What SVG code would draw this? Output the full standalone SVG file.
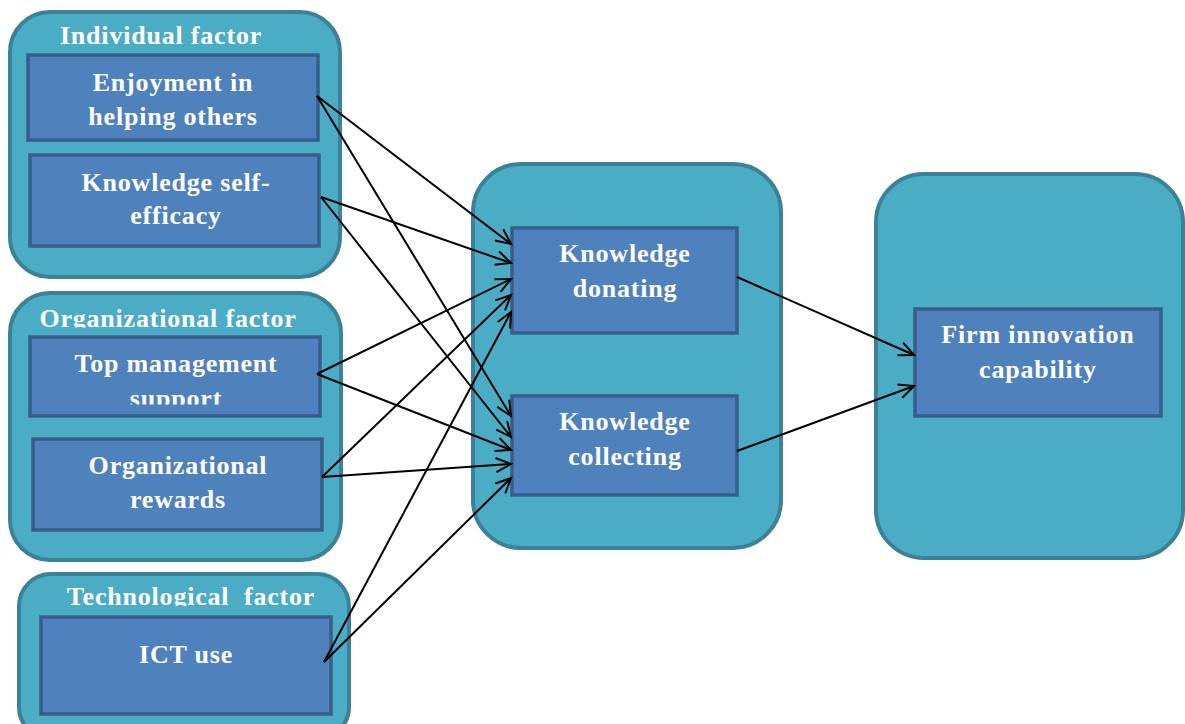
<svg xmlns="http://www.w3.org/2000/svg" width="1185" height="724" viewBox="0 0 1185 724">
<style>
.outer{fill:#4bacc6;stroke:#3b8296;stroke-width:4}
.inner{fill:#4f81bd;stroke:#385d8a;stroke-width:3.5}
.t{font-family:"Liberation Serif","Times New Roman",serif;font-weight:bold;font-size:26px;letter-spacing:0.8px;fill:#ffffff;text-anchor:middle}
.c{fill:none;stroke:#000;stroke-width:2}
</style>
<defs>
<marker id="arr" markerUnits="userSpaceOnUse" markerWidth="20" markerHeight="20" viewBox="0 0 20 20" refX="17" refY="10" orient="auto">
<path d="M2,3 L17,10 L2,17" fill="none" stroke="#000" stroke-width="2"/>
</marker>
<clipPath id="clipOrg"><rect x="0" y="290" width="350" height="37.5"/></clipPath>
<clipPath id="clipTech"><rect x="0" y="570" width="360" height="36"/></clipPath>
<clipPath id="clipSup"><rect x="0" y="330" width="350" height="74.5"/></clipPath>
</defs>
<rect width="1185" height="724" fill="#ffffff"/>
<g id="individual-factor">
<rect class="outer" x="10" y="12" width="330" height="265" rx="40"/>
<text class="t" x="161" y="44">Individual factor</text>
</g>
<g id="enjoyment">
<rect class="inner" x="28" y="55" width="290" height="85"/>
<text class="t" x="173" y="91">Enjoyment in</text>
<text class="t" x="173" y="125">helping others</text>
</g>
<g id="self-efficacy">
<rect class="inner" x="30" y="155" width="289" height="91"/>
<text class="t" x="176" y="191">Knowledge self-</text>
<text class="t" x="176" y="224">efficacy</text>
</g>
<g id="organizational-factor">
<rect class="outer" x="10" y="293" width="331" height="267" rx="40"/>
<text class="t" x="168" y="327" clip-path="url(#clipOrg)">Organizational factor</text>
</g>
<g id="top-management">
<rect class="inner" x="30" y="337" width="290" height="79"/>
<text class="t" x="176" y="372">Top management</text>
<text class="t" x="176" y="407" clip-path="url(#clipSup)">support</text>
</g>
<g id="org-rewards">
<rect class="inner" x="33" y="439" width="289" height="91"/>
<text class="t" x="178" y="474">Organizational</text>
<text class="t" x="178" y="508">rewards</text>
</g>
<g id="technological-factor">
<rect class="outer" x="19" y="574" width="330" height="165" rx="32"/>
<text class="t" x="191" y="605" clip-path="url(#clipTech)" xml:space="preserve">Technological  factor</text>
</g>
<g id="ict-use">
<rect class="inner" x="41" y="617" width="290" height="97"/>
<text class="t" x="186" y="663">ICT use</text>
</g>
<g id="knowledge-sharing">
<rect class="outer" x="473" y="164" width="308" height="384" rx="48"/>
</g>
<g id="knowledge-donating">
<rect class="inner" x="512" y="228" width="225" height="105"/>
<text class="t" x="625" y="262">Knowledge</text>
<text class="t" x="625" y="297">donating</text>
</g>
<g id="knowledge-collecting">
<rect class="inner" x="512" y="396" width="225" height="99"/>
<text class="t" x="625" y="430">Knowledge</text>
<text class="t" x="625" y="465">collecting</text>
</g>
<g id="innovation">
<rect class="outer" x="876" y="174" width="307" height="384" rx="48"/>
</g>
<g id="firm-innovation">
<rect class="inner" x="915" y="309" width="246" height="107"/>
<text class="t" x="1038" y="343">Firm innovation</text>
<text class="t" x="1038" y="378">capability</text>
</g>
<g id="connectors">
<line class="c" x1="317" y1="96" x2="511" y2="244" marker-end="url(#arr)"/>
<line class="c" x1="317" y1="96" x2="511" y2="416" marker-end="url(#arr)"/>
<line class="c" x1="321" y1="197" x2="511" y2="263" marker-end="url(#arr)"/>
<line class="c" x1="321" y1="197" x2="511" y2="437" marker-end="url(#arr)"/>
<line class="c" x1="317" y1="374" x2="511" y2="279" marker-end="url(#arr)"/>
<line class="c" x1="317" y1="374" x2="511" y2="450" marker-end="url(#arr)"/>
<line class="c" x1="322" y1="477" x2="511" y2="295" marker-end="url(#arr)"/>
<line class="c" x1="322" y1="477" x2="511" y2="464" marker-end="url(#arr)"/>
<line class="c" x1="324" y1="662" x2="511" y2="312" marker-end="url(#arr)"/>
<line class="c" x1="324" y1="662" x2="511" y2="478" marker-end="url(#arr)"/>
<line class="c" x1="737" y1="277" x2="914" y2="355" marker-end="url(#arr)"/>
<line class="c" x1="737" y1="451" x2="914" y2="386" marker-end="url(#arr)"/>
</g>
</svg>
